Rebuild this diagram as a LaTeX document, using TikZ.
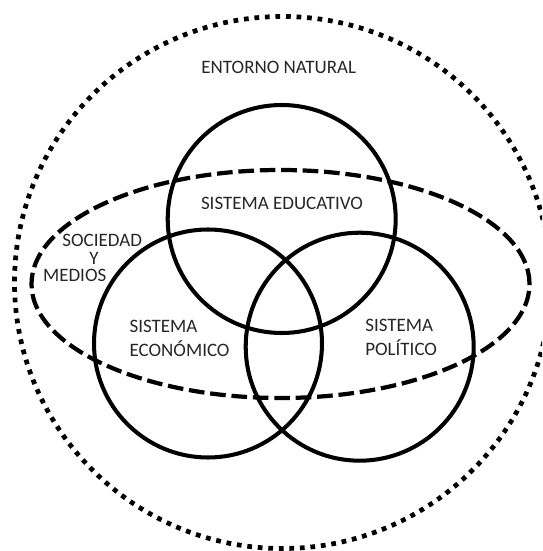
\documentclass[tikz,border=0pt]{standalone}
\usepackage{fontspec}
\setmainfont{Carlito}

\begin{document}
\begin{tikzpicture}[
		entorno/.style={line width=2.7pt, dash pattern=on 2.7pt off 3.3pt},
		sociedad/.style={line width=2.4pt, dash pattern=on 8.9pt off 3.3pt},
		sistema/.style={line width=2.3pt},
		rotulo/.style={inner sep=0pt, color=black!85, font=\fontsize{10.8}{13.6}\selectfont}
	]
		%%%%% START %%%%%
		
		\useasboundingbox (0, 0) rectangle (10.84, 11.02);
		\clip (0, 0) rectangle (10.84, 11.02);
		
		\draw [entorno](5.65, 5.37) ellipse (5.36 and 5.32);
		\draw [sociedad](5.61, 5.34) ellipse (4.98 and 2.28);
		
		\draw [sistema](5.634, 6.64) circle (2.28);
		\draw [sistema](4.16, 4.15) circle (2.28);
		\draw [sistema](7.194, 4.086) circle (2.28);
		
		\node[rotulo, anchor=base] (natural) at (5.576, 9.54) {ENTORNO NATURAL};
		\node[rotulo, anchor=base] (educativo) at (5.64, 6.82) {SISTEMA EDUCATIVO};
		
		\node[rotulo, anchor=base] (sociedad) at (2.044, 6.08) {SOCIEDAD};
		\node[rotulo, anchor=base] (y) at (1.88, 5.72) {Y};
		\node[rotulo, anchor=base] (medios) at (1.494, 5.38) {MEDIOS};
		
		\node[rotulo, anchor=north west, align=left] (economico) at (2.586, 4.62) {SISTEMA\\ECONÓMICO};
		\node[rotulo, anchor=north west, align=left] (politico) at (7.30, 4.634) {SISTEMA\\POLÍTICO};
		
		%%%%% END %%%%%
	\end{tikzpicture}
\end{document}
